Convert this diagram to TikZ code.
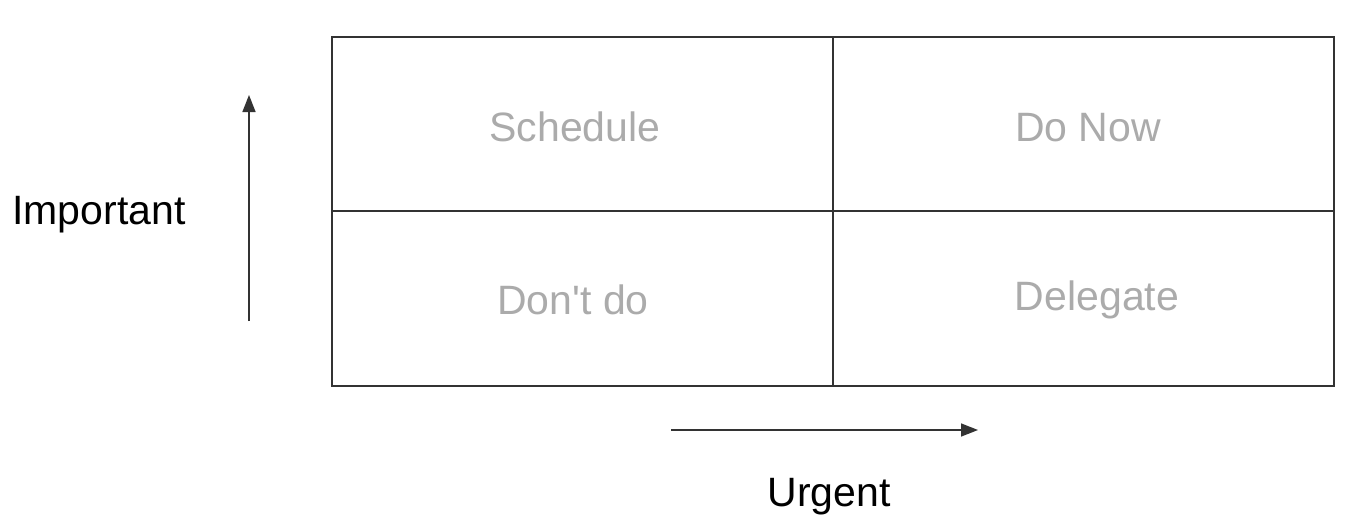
\documentclass[tikz,border=0pt]{standalone}
\usepackage{fontspec}
\setmainfont{Liberation Sans}
\usetikzlibrary{arrows.meta}
\definecolor{quadtext}{HTML}{ABABAB}
\definecolor{gridline}{HTML}{333333}
\begin{document}
\begin{tikzpicture}[x=1pt,y=-1pt,
  quad/.style={text=quadtext,font=\fontsize{41}{41}\selectfont,inner sep=0pt,anchor=center},
  axislabel/.style={text=black,font=\fontsize{41}{41}\selectfont,inner sep=0pt,anchor=center},
  axisarrow/.style={line width=1.6pt,draw=black!80,-{Triangle[length=17pt,width=13pt]}}]
\useasboundingbox[fill=white] (0,0) rectangle (1363,530);
\coordinate (tl) at (332,37);
\coordinate (br) at (1334,386);
\draw[gridline,line width=1.6pt] (tl) rectangle (br);
\coordinate (mt) at (833,37);
\coordinate (mb) at (833,386);
\coordinate (ml) at (332,211);
\coordinate (mr) at (1334,211);
\draw[gridline,line width=1.6pt] (mt) -- (mb);
\draw[gridline,line width=1.6pt] (ml) -- (mr);
\node[quad] (schedule) at (575,127) {Schedule};
\node[quad] (donow) at (1088,128) {Do Now};
\node[quad] (dontdo) at (573,300) {Don\textquotesingle t do};
\node[quad] (delegate) at (1097,300) {Delegate};
\coordinate (vs) at (249,321);
\coordinate (ve) at (249,95);
\draw[axisarrow] (vs) -- (ve);
\coordinate (hs) at (671,430);
\coordinate (he) at (978,430);
\draw[axisarrow] (hs) -- (he);
\node[axislabel] (important) at (99,215) {Important};
\node[axislabel] (urgent) at (829,497) {Urgent};
\end{tikzpicture}
\end{document}
